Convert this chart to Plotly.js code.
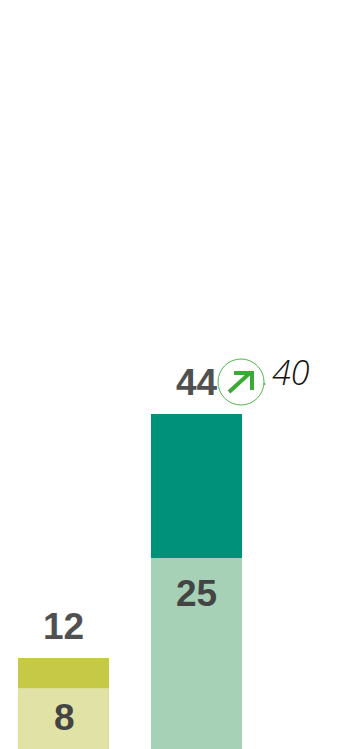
<!DOCTYPE html>
<html>
<head>
<meta charset="utf-8">
<script src="https://cdn.plot.ly/plotly-3.0.1.min.js"></script>
<style>html,body{margin:0;padding:0;background:#fff;overflow:hidden}#chart{width:340px;height:749px}</style>
</head>
<body>
<div id="chart"></div>
<script>
const categories = ["A", "B"];
const lowerValues = [8, 25];
const upperValues = [4, 19];
const totals = [12, 44];
const previousValue = 40;
const lowerColors = ["#e1e3a6", "#a6d1b6"];
const upperColors = ["#c5c945", "#00917a"];
const lowerLines = ["#dcdf93", "#a6d1b6"];

const xPos = [0, 1];
const font = "'Liberation Sans', Arial, sans-serif";
const traces = [
  {type: "bar", x: xPos, y: lowerValues, width: 0.684, marker: {color: lowerColors, line: {color: lowerLines, width: 1}}, hoverinfo: "skip"},
  {type: "bar", x: xPos, y: upperValues, width: 0.684, marker: {color: upperColors, line: {width: 0}}, hoverinfo: "skip"}
];
const annotations = [];
totals.forEach((t, i) => annotations.push({
  x: xPos[i], y: t, xref: "x", yref: "y", text: "<b>" + t + "</b>", showarrow: false,
  xanchor: "center", yanchor: "bottom", yshift: 9, font: {family: font, size: 37, color: "#505050"}
}));
lowerValues.forEach((v, i) => annotations.push({
  x: xPos[i], y: v, xref: "x", yref: "y", text: "<b>" + v + "</b>", showarrow: false,
  xanchor: "center", xshift: i === 0 ? 0.5 : 0, yanchor: "top", yshift: i === 0 ? -7 : -13, font: {family: font, size: 37, color: "#444444"}
}));
annotations.push({
  x: 291 / 340, y: 1 - 372 / 749, xref: "paper", yref: "paper", text: "<i>" + previousValue + "</i>",
  xanchor: "center", yanchor: "middle", showarrow: false, font: {family: "'Open Sans', sans-serif", size: 34, color: "#111111", weight: 300}
});
const shapes = [
  {type: "circle", xref: "paper", yref: "paper", xsizemode: "pixel", ysizemode: "pixel",
   xanchor: 241 / 340, yanchor: 1 - 382 / 749, x0: -23, x1: 23, y0: -23, y1: 23,
   line: {color: "#4db848", width: 1}},
  {type: "circle", xref: "paper", yref: "paper", xsizemode: "pixel", ysizemode: "pixel",
   xanchor: 264.5 / 340, yanchor: 1 - 384 / 749, x0: -1, x1: 1, y0: -1, y1: 1,
   fillcolor: "#4db848", line: {width: 0}},
  {type: "path", xref: "paper", yref: "paper", xsizemode: "pixel", ysizemode: "pixel",
   xanchor: 241 / 340, yanchor: 1 - 382 / 749,
   path: "M -12 -10 L 10 10 M -7 9 L 11 9 L 11 -8",
   line: {color: "#3aaa35", width: 4}}
];
Plotly.newPlot("chart", traces, {
  width: 340, height: 749, barmode: "stack", showlegend: false,
  margin: {l: 0, r: 0, t: 0, b: 0}, paper_bgcolor: "#ffffff", plot_bgcolor: "#ffffff",
  xaxis: {visible: false, range: [-0.4774, 2.0789], fixedrange: true},
  yaxis: {visible: false, range: [0, 98.27], fixedrange: true},
  annotations, shapes
}, {displayModeBar: false, staticPlot: true});
</script>
</body>
</html>
